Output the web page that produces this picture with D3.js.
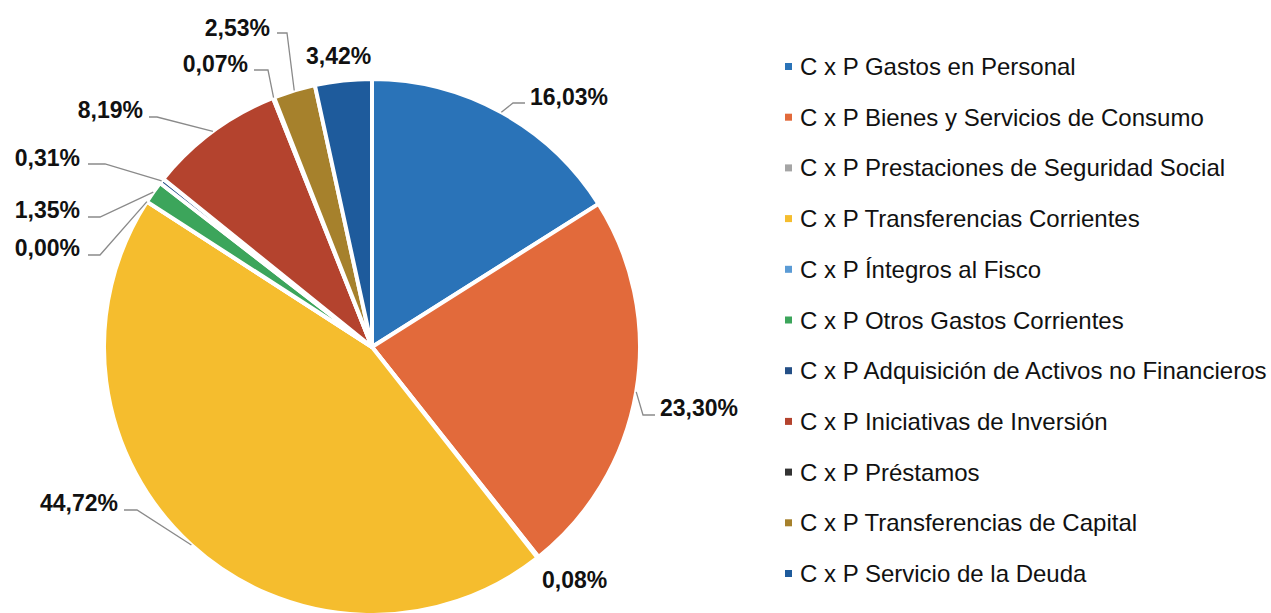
<!DOCTYPE html>
<html>
<head>
<meta charset="utf-8">
<script src="https://cdn.jsdelivr.net/npm/d3@7"></script>
<style>
  body { margin: 0; background: #fff; }
  svg { display: block; }
</style>
</head>
<body>
<script>
// categories and shares (%), clockwise from 12 o'clock
const categories = [
  "C x P Gastos en Personal",
  "C x P Bienes y Servicios de Consumo",
  "C x P Prestaciones de Seguridad Social",
  "C x P Transferencias Corrientes",
  "C x P Íntegros al Fisco",
  "C x P Otros Gastos Corrientes",
  "C x P Adquisición de Activos no Financieros",
  "C x P Iniciativas de Inversión",
  "C x P Préstamos",
  "C x P Transferencias de Capital",
  "C x P Servicio de la Deuda"
];
const shares = [16.03, 23.30, 0.08, 44.72, 0.00, 1.35, 0.31, 8.19, 0.07, 2.53, 3.42];
const sliceColors = ["#2a73b8", "#e26a3b", "#a5a5a5", "#f5bd2e", "#5b9bd5", "#3ca55b",
                     "#244f86", "#b4432e", "#333333", "#a6812c", "#1e5b9c"];

// label placement: text anchor (x, baseline y) and elbow of the leader line (null = no leader)
const labelLayout = [
  { tx: 530, ty: 105, anchor: "start", elbow: [513, 103], end: [525, 103] },
  { tx: 660, ty: 416, anchor: "start", elbow: [643, 415], end: [655, 415] },
  { tx: 542, ty: 588, anchor: "start", elbow: null },
  { tx: 118, ty: 511, anchor: "end", elbow: [137, 510], end: [124, 510] },
  { tx: 80, ty: 256, anchor: "end", elbow: [100, 255], end: [88, 255] },
  { tx: 80, ty: 218, anchor: "end", elbow: [100, 217], end: [88, 217] },
  { tx: 80, ty: 166, anchor: "end", elbow: [105, 164], end: [88, 164] },
  { tx: 143, ty: 118, anchor: "end", elbow: [157, 117], end: [149, 117] },
  { tx: 248, ty: 72, anchor: "end", elbow: [268, 70], end: [254, 70] },
  { tx: 270, ty: 36, anchor: "end", elbow: [287, 33], end: [277, 33] },
  { tx: 306, ty: 64, anchor: "start", elbow: null }
];

const width = 1271, height = 613;
const cx = 372, cy = 347, radius = 268;

const svg = d3.select("body").append("svg")
  .attr("width", width)
  .attr("height", height);

const data = categories.map((c, i) => ({ name: c, value: shares[i], color: sliceColors[i], lab: labelLayout[i] }));

const pie = d3.pie().value(d => d.value).sort(null);
const arcs = pie(data);

const arc = d3.arc().innerRadius(0).outerRadius(radius);
const edge = d3.arc().innerRadius(radius).outerRadius(radius);

const g = svg.append("g").attr("transform", `translate(${cx},${cy})`);

g.selectAll("path.slice")
  .data(arcs)
  .join("path")
    .attr("class", "slice")
    .attr("d", arc)
    .attr("fill", d => d.data.color)
    .attr("stroke", "#fff")
    .attr("stroke-width", 4)
    .attr("stroke-linejoin", "round");

const fmt = v => d3.format(".2f")(v).replace(".", ",") + "%";

// leader lines
svg.append("g")
  .selectAll("polyline")
  .data(arcs.filter(d => d.data.lab.elbow))
  .join("polyline")
    .attr("points", d => {
      const p = edge.centroid(d);
      const lab = d.data.lab;
      return [[cx + p[0], cy + p[1]], lab.elbow, lab.end].map(q => q.join(",")).join(" ");
    })
    .attr("fill", "none")
    .attr("stroke", "#8a8a8a")
    .attr("stroke-width", 1.3);

// percentage labels
svg.append("g")
  .style("font", "bold 23px 'Liberation Sans', Arial, sans-serif")
  .selectAll("text")
  .data(arcs)
  .join("text")
    .attr("x", d => d.data.lab.tx)
    .attr("y", d => d.data.lab.ty)
    .attr("text-anchor", d => d.data.lab.anchor)
    .attr("fill", "#111")
    .text(d => fmt(d.data.value));

// legend
const legendY = d3.scalePoint()
  .domain(categories)
  .range([66.5, 573.5]);

const legend = svg.append("g")
  .style("font", "24px 'Liberation Sans', Arial, sans-serif");

const item = legend.selectAll("g")
  .data(data)
  .join("g")
    .attr("transform", d => `translate(785,${legendY(d.name)})`);

item.append("rect")
  .attr("x", 0)
  .attr("y", -3.5)
  .attr("width", 7)
  .attr("height", 7)
  .attr("fill", d => d.color);

item.append("text")
  .attr("x", 15)
  .attr("y", 8.5)
  .attr("fill", "#111")
  .text(d => d.name);
</script>
</body>
</html>
